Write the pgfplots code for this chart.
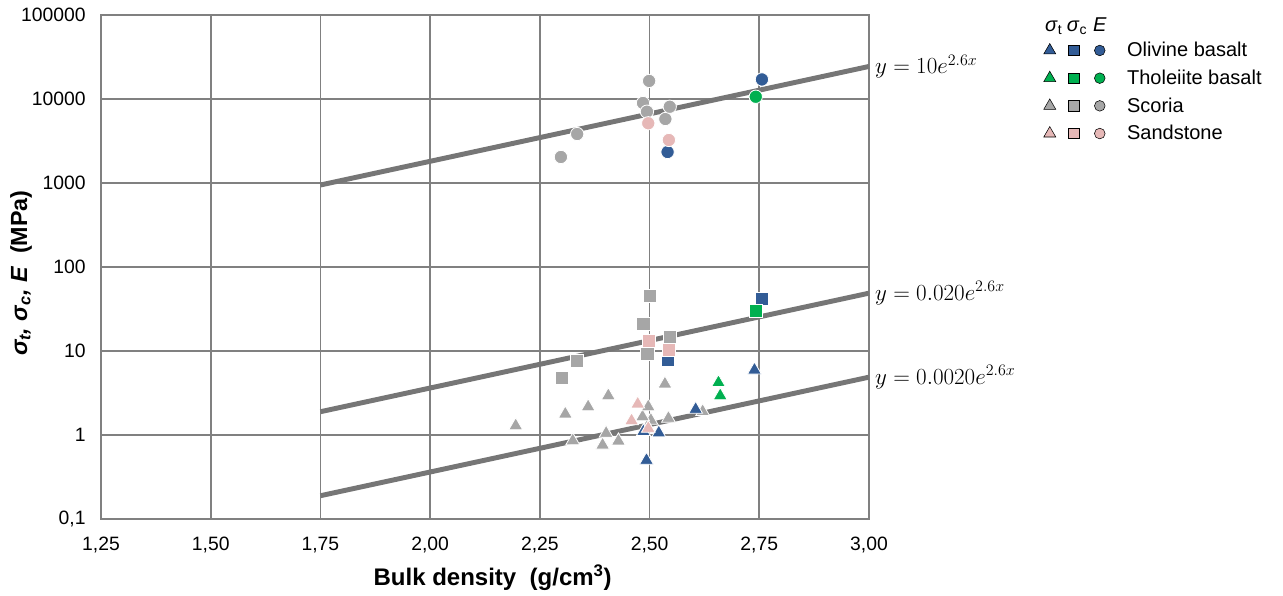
\documentclass[border=0pt]{standalone}
\usepackage{fontspec}
\setmainfont{Liberation Sans}
\usepackage{pgfplots}
\pgfplotsset{compat=1.18}
\definecolor{cOl}{RGB}{50,92,150}
\definecolor{cTh}{RGB}{0,176,80}
\definecolor{cSc}{RGB}{166,166,166}
\definecolor{cSa}{RGB}{230,184,183}
\definecolor{gridc}{RGB}{128,128,128}
\definecolor{fitc}{RGB}{118,118,118}
\pgfplotsset{
  tri/.style={only marks, mark=triangle*, mark size=6pt, mark options={draw=white, fill=#1, line width=0.6pt}},
  sq/.style={only marks, mark=square*, mark size=5pt, mark options={draw=white, fill=#1, line width=0.6pt}},
  ci/.style={only marks, mark=*, mark size=5pt, mark options={draw=white, fill=#1, line width=0.6pt}},
  trio/.style={legend image code/.code={
    \path[draw=none, mark=triangle*, mark size=5.2pt, mark options={draw=none, fill=#1}] plot coordinates {(0pt,0pt)};
    \path[draw=none, mark=square*, mark size=3.9pt, mark options={draw=none, fill=#1}] plot coordinates {(18pt,0pt)};
    \path[draw=none, mark=*, mark size=4pt, mark options={draw=none, fill=#1}] plot coordinates {(37.5pt,0pt)};
    \path[draw=none] (0pt,0pt) -- (56pt,0pt);
  }},
}
\begin{document}
\begin{tikzpicture}
\useasboundingbox (0,0) rectangle (962.25pt,447pt);
\begin{axis}[
  at={(75.75pt,57.75pt)}, anchor=south west,
  scale only axis, width=576pt, height=378pt,
  clip=false,
  xmin=1.25, xmax=3, ymode=log, ymin=0.1, ymax=100000,
  xtick={1.25,1.5,1.75,2,2.25,2.5,2.75,3},
  xticklabels={{1,25},{1,50},{1,75},{2,00},{2,25},{2,50},{2,75},{3,00}},
  ytick={0.1,1,10,100,1000,10000,100000},
  yticklabels={{0,1},1,10,100,1000,10000,100000},
  minor ytick={},
  grid=major,
  major grid style={gridc, line width=1.2pt},
  axis line style={gridc, line width=1.2pt},
  tick style={draw=none},
  tick label style={font=\fontsize{14.5}{17}\selectfont, black},
  xticklabel style={yshift=-10pt},
  yticklabel style={xshift=-8pt},
  xlabel={\textbf{Bulk density\ \ (g/cm\textsuperscript{3})}},
  ylabel={\textbf{\textit{σ\textsubscript{t}, σ\textsubscript{c}, E}\ \ (MPa)}},
  xlabel style={at={(rel axis cs:0.51,0)}, yshift=-44pt, anchor=center, font=\fontsize{18}{21}\selectfont},
  ylabel style={at={(rel axis cs:0,0.488)}, yshift=60pt, anchor=center, font=\fontsize{17.5}{20}\selectfont},
  legend style={at={(rel axis cs:1.222,1.0)}, anchor=north west, draw=none, fill=none,
    font=\fontsize{15}{18}\selectfont, row sep=4.4pt, legend cell align=left,
    nodes={inner sep=2pt}},
]
% fit lines
\addplot[fitc, line width=3.7pt, forget plot] coordinates {(1.75,946.3) (3,24406)};
\addplot[fitc, line width=3.7pt, forget plot] coordinates {(1.75,1.893) (3,48.81)};
\addplot[fitc, line width=3.7pt, forget plot] coordinates {(1.75,0.1893) (3,4.881)};
\node[anchor=west, font=\fontsize{17.5}{20}\selectfont] at (axis cs:3,24406) {\hspace{1pt}$y = 10e^{2.6x}$};
\node[anchor=west, font=\fontsize{17.5}{20}\selectfont] at (axis cs:3,48.81) {\hspace{1pt}$y = 0.020e^{2.6x}$};
\node[anchor=west, font=\fontsize{17.5}{20}\selectfont] at (axis cs:3,4.881) {\hspace{1pt}$y = 0.0020e^{2.6x}$};
% Scoria
\addplot[tri=cSc, forget plot] coordinates {(2.195,1.29) (2.308,1.78) (2.325,0.855) (2.360,2.17) (2.393,0.76) (2.401,1.05) (2.406,2.94) (2.429,0.85) (2.503,1.5) (2.484,1.65) (2.497,2.17) (2.535,4.05) (2.543,1.58) (2.621,1.9)};
\addplot[sq=cSc, forget plot] coordinates {(2.300,4.77) (2.335,7.66) (2.486,20.9) (2.495,9.2) (2.500,45.5) (2.546,14.6)};
\addplot[ci=cSc, forget plot] coordinates {(2.298,2040) (2.335,3830) (2.485,8960) (2.494,7060) (2.499,16400) (2.536,5780) (2.546,8090)};
% Olivine basalt
\addplot[tri=cOl, forget plot] coordinates {(2.486,1.10) (2.493,0.50) (2.521,1.06) (2.605,2.02) (2.739,5.94)};
\addplot[sq=cOl, forget plot] coordinates {(2.542,7.96) (2.756,41.6)};
\addplot[ci=cOl, forget plot] coordinates {(2.541,2340) (2.756,17100)};
% Tholeiite basalt
\addplot[tri=cTh, forget plot] coordinates {(2.657,4.2) (2.661,2.94)};
\addplot[sq=cTh, forget plot] coordinates {(2.742,29.9)};
\addplot[ci=cTh, forget plot] coordinates {(2.742,10640)};
% Sandstone
\addplot[tri=cSa, forget plot] coordinates {(2.459,1.48) (2.473,2.34) (2.497,1.2)};
\addplot[sq=cSa, forget plot] coordinates {(2.498,13.3) (2.544,10.3)};
\addplot[ci=cSa, forget plot] coordinates {(2.497,5140) (2.544,3250)};
% legend
\addlegendimage{legend image code/.code={
  \node[draw=none, inner sep=0pt, anchor=center] at (3pt,-4pt) {\textit{σ}\textsubscript{t}};
  \node[draw=none, inner sep=0pt, anchor=center] at (20.5pt,-4pt) {\textit{σ}\textsubscript{c}};
  \node[draw=none, inner sep=0pt, anchor=center] at (37.5pt,-3pt) {\textit{E}};
  \path[draw=none] (0pt,0pt) -- (56pt,0pt);}}
\addlegendentry{}
\addlegendimage{trio=cOl}\addlegendentry{Olivine basalt}
\addlegendimage{trio=cTh}\addlegendentry{Tholeiite basalt}
\addlegendimage{trio=cSc}\addlegendentry{Scoria}
\addlegendimage{trio=cSa}\addlegendentry{Sandstone}
\end{axis}
\end{tikzpicture}
\end{document}
